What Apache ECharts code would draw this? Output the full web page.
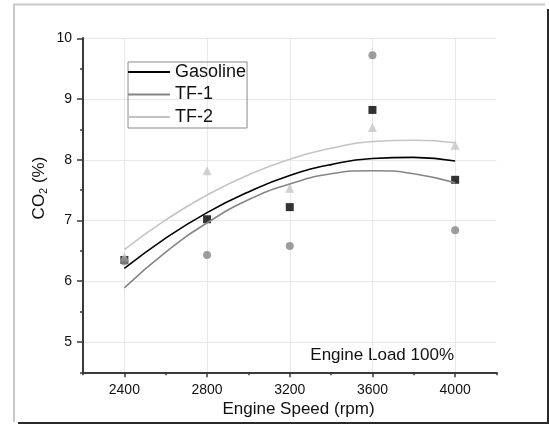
<!DOCTYPE html>
<html>
<head>
<meta charset="utf-8">
<script src="https://cdn.jsdelivr.net/npm/echarts@6/dist/echarts.min.js"></script>
<style>
html,body{margin:0;padding:0;background:#fff;}
#chart{width:549px;height:424px;}
</style>
</head>
<body>
<div id="chart"></div>
<script>
// ---- data ----
const speeds = [2400, 2800, 3200, 3600, 4000];
const gasolinePts = [6.35, 7.02, 7.22, 8.82, 7.67];
const tf1Pts = [6.33, 6.43, 6.58, 9.72, 6.84];
const tf2Pts = [6.40, 7.82, 7.53, 8.53, 8.24];

const fitSpeeds = [2400, 2600, 2800, 3000, 3200, 3400, 3600, 3800, 4000];
const gasolineFit = [6.21, 6.71, 7.13, 7.47, 7.74, 7.92, 8.02, 8.04, 7.98];
const tf1Fit = [5.89, 6.48, 6.96, 7.34, 7.60, 7.77, 7.82, 7.77, 7.62];
const tf2Fit = [6.52, 7.01, 7.42, 7.75, 8.01, 8.19, 8.30, 8.32, 8.28];

const xTickLabels = [2400, 2800, 3200, 3600, 4000];
const yTickLabels = [5, 6, 7, 8, 9, 10];
const seriesNames = ['Gasoline', 'TF-1', 'TF-2'];

const FONT = "'Liberation Sans', Arial, sans-serif";
const zip = (xs, ys) => xs.map((x, i) => [x, ys[i]]);

const chart = echarts.init(document.getElementById('chart'), null, {renderer: 'canvas'});

const axisLineStyle = {color: '#3a3a3a', width: 2};

const option = {
  backgroundColor: '#ffffff',
  animation: false,
  textStyle: {fontFamily: FONT},
  grid: {left: 83, right: 52.5, top: 38.3, bottom: 51.7, containLabel: false},
  xAxis: [
    {
      type: 'value', min: 2200, max: 4200, interval: 200,
      axisLine: {show: true, onZero: false, lineStyle: axisLineStyle},
      axisTick: {show: true, length: 5, customValues: xTickLabels, lineStyle: {color: '#3a3a3a', width: 1.5}},
      axisLabel: {show: true, customValues: xTickLabels, margin: 11, color: '#111', fontSize: 14, fontFamily: FONT,
                  formatter: v => String(v)},
      splitLine: {show: true, lineStyle: {color: '#e8e8e8', width: 1}}
    },
    {
      type: 'value', min: 2200, max: 4200, interval: 200, position: 'bottom', offset: 0,
      axisLine: {show: true, onZero: false, lineStyle: axisLineStyle},
      axisTick: {show: true, length: 3, lineStyle: {color: '#3a3a3a', width: 1.5}},
      axisLabel: {show: false},
      splitLine: {show: false}
    }
  ],
  yAxis: [
    {
      type: 'value', min: 4.5, max: 10, interval: 0.5, position: 'left',
      axisLine: {show: true, onZero: false, lineStyle: axisLineStyle},
      axisTick: {show: true, length: 6, customValues: yTickLabels, lineStyle: {color: '#3a3a3a', width: 1.5}},
      axisLabel: {show: true, customValues: yTickLabels, margin: 11, color: '#111', fontSize: 14, fontFamily: FONT,
                  formatter: v => String(v)},
      splitLine: {show: true, lineStyle: {color: '#e8e8e8', width: 1}}
    },
    {
      type: 'value', min: 4.5, max: 10, interval: 0.5, position: 'left', offset: 0,
      axisLine: {show: true, onZero: false, lineStyle: axisLineStyle},
      axisTick: {show: true, length: 3, lineStyle: {color: '#3a3a3a', width: 1.5}},
      axisLabel: {show: false},
      splitLine: {show: false}
    }
  ],
  legend: {
    data: seriesNames,
    orient: 'vertical',
    left: 128, top: 62,
    icon: 'rect',
    itemWidth: 42, itemHeight: 2,
    itemGap: 2.5,
    padding: [0, 1, 1, 0],
    borderColor: '#8a8a8a', borderWidth: 1,
    textStyle: {fontSize: 18, lineHeight: 20, color: '#111', fontFamily: FONT},
    selectedMode: false
  },
  series: [
    {name: 'Gasoline pts', type: 'scatter', data: zip(speeds, gasolinePts), symbol: 'rect', symbolSize: 8,
     itemStyle: {color: '#000000'}, z: 3},
    {name: 'TF-2 pts', type: 'scatter', data: zip(speeds, tf2Pts), symbol: 'triangle', symbolSize: 9,
     itemStyle: {color: '#c4c4c4'}, z: 3},
    {name: 'TF-1 pts', type: 'scatter', data: zip(speeds, tf1Pts), symbol: 'circle', symbolSize: 8,
     itemStyle: {color: '#858585'}, z: 3},
    {name: 'Gasoline', type: 'line', data: zip(fitSpeeds, gasolineFit), smooth: true, showSymbol: false, symbol: 'none',
     color: '#000000', lineStyle: {color: '#000000', width: 1.6}, itemStyle: {color: '#000000'}, z: 4},
    {name: 'TF-1', type: 'line', data: zip(fitSpeeds, tf1Fit), smooth: true, showSymbol: false, symbol: 'none',
     color: '#858585', lineStyle: {color: '#858585', width: 1.6}, itemStyle: {color: '#858585'}, z: 4},
    {name: 'TF-2', type: 'line', data: zip(fitSpeeds, tf2Fit), smooth: true, showSymbol: false, symbol: 'none',
     color: '#c4c4c4', lineStyle: {color: '#c4c4c4', width: 1.6}, itemStyle: {color: '#c4c4c4'}, z: 4}
  ],
  graphic: [
    // outer frame
    {type: 'line', shape: {x1: 13, y1: 4.5, x2: 545, y2: 4.5}, style: {stroke: '#c8c8c8', lineWidth: 2}, silent: true},
    {type: 'line', shape: {x1: 14, y1: 4, x2: 14, y2: 422}, style: {stroke: '#c8c8c8', lineWidth: 2}, silent: true},
    {type: 'line', shape: {x1: 548, y1: 9, x2: 548, y2: 424}, style: {stroke: '#2a2a2a', lineWidth: 2}, silent: true},
    {type: 'line', shape: {x1: 18, y1: 423, x2: 549, y2: 423}, style: {stroke: '#2a2a2a', lineWidth: 2}, silent: true},
    // axis titles and annotation
    {type: 'text', x: 39.5, y: 188, rotation: Math.PI / 2,
     style: {text: 'CO{sub|2} (%)', fontSize: 17, fontFamily: FONT, fill: '#111', align: 'center', verticalAlign: 'middle',
             rich: {sub: {fontSize: 11, fontFamily: FONT, fill: '#111', padding: [9, 0, 0, 0]}}}},
    {type: 'text', x: 298.5, y: 409, style: {text: 'Engine Speed (rpm)', fontSize: 17, fontFamily: FONT, fill: '#111',
     align: 'center', verticalAlign: 'middle'}},
    {type: 'text', x: 454, y: 355, style: {text: 'Engine Load 100%', fontSize: 17, fontFamily: FONT, fill: '#111',
     align: 'right', verticalAlign: 'middle'}}
  ]
};
chart.setOption(option);
</script>
</body>
</html>
